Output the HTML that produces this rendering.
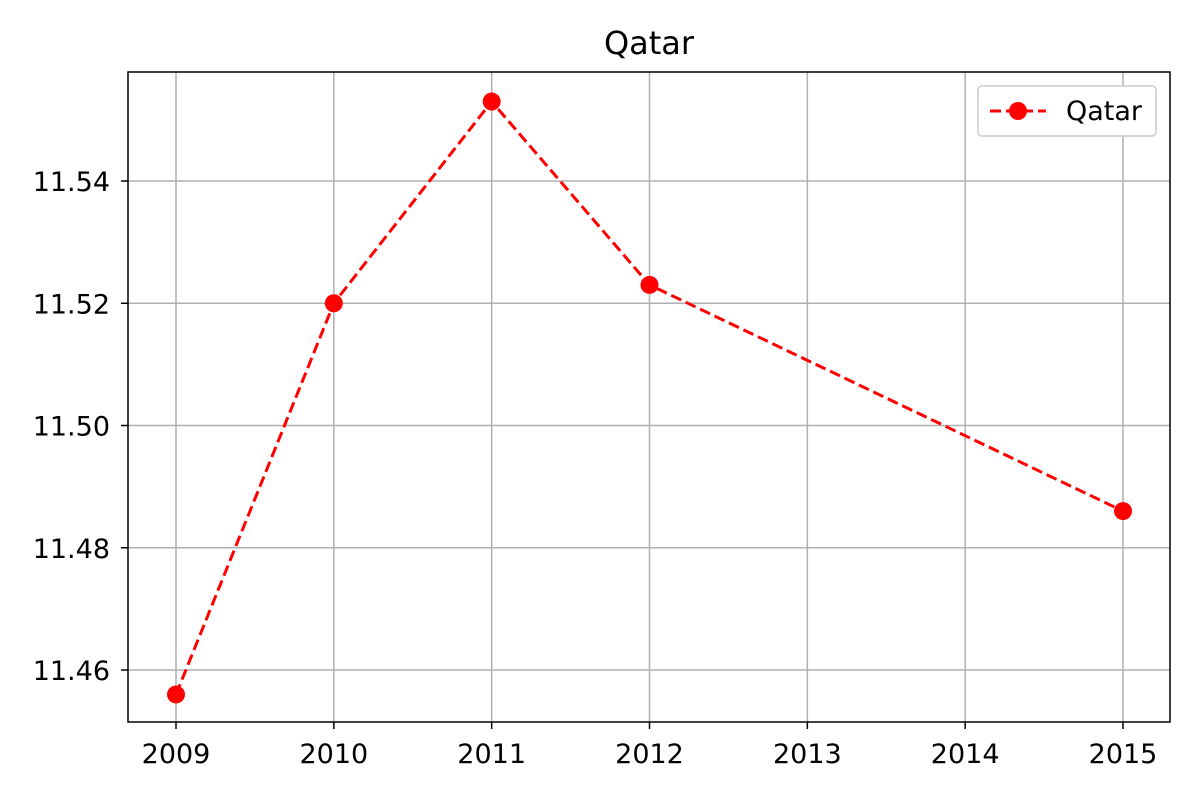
<!DOCTYPE html>
<html><head><meta charset="utf-8"><style>
body{margin:0;background:#fff;font-family:"Liberation Sans","DejaVu Sans",sans-serif;}
</style></head><body>
<svg width="1200" height="800" xmlns="http://www.w3.org/2000/svg">
<rect width="1200" height="800" fill="#fff"/>
<text x="649" y="54" font-size="32" text-anchor="middle" font-family="DejaVu Sans, sans-serif">Qatar</text>
<g id="grid"></g>
<g id="axes"></g>
<g id="series"></g>
<rect x="128" y="72" width="1042" height="650" fill="none" stroke="#000" stroke-width="1.5"/>
<g>
<rect x="978" y="86" width="178" height="50" rx="4" fill="#fff" stroke="#ccc" stroke-width="1.5"/>
<line x1="990" y1="111" x2="1046" y2="111" stroke="#f00" stroke-width="3" stroke-dasharray="11,5"/>
<circle cx="1018" cy="111" r="9" fill="#f00"/>
<text x="1066" y="120" font-size="27" font-family="DejaVu Sans, sans-serif">Qatar</text>
</g>
</svg>
<script>
const years=[2009,2010,2011,2012,2015];
const values=[11.456,11.520,11.553,11.523,11.486];
const xTicks=[2009,2010,2011,2012,2013,2014,2015];
const yTicks=[11.46,11.48,11.50,11.52,11.54];
const NS="http://www.w3.org/2000/svg";
function xs(v){return 176+(v-2009)*(1123-176)/6;}
function ys(v){return 670-(v-11.46)*(670-181)/0.08;}
function mk(t,a,p){const e=document.createElementNS(NS,t);for(const k in a)e.setAttribute(k,a[k]);p.appendChild(e);return e;}
const g=document.getElementById('grid'),ax=document.getElementById('axes'),s=document.getElementById('series');
xTicks.forEach(t=>{const x=xs(t);
const l=mk('line',{x1:x,x2:x,y1:72,y2:722,stroke:'#b0b0b0','stroke-width':1.5},g);


mk('line',{x1:x,x2:x,y1:722,y2:729,stroke:'#000','stroke-width':1.5},ax);
const tx=mk('text',{x:x,y:763,'font-size':27,'text-anchor':'middle','font-family':'DejaVu Sans, sans-serif'},ax);tx.textContent=t;


});
yTicks.forEach(t=>{const y=ys(t);
const l=mk('line',{x1:128,x2:1170,y1:y,y2:y,stroke:'#b0b0b0','stroke-width':1.5},g);


mk('line',{x1:121,x2:128,y1:y,y2:y,stroke:'#000','stroke-width':1.5},ax);
const tx=mk('text',{x:110,y:y+10,'font-size':27,'text-anchor':'end','font-family':'DejaVu Sans, sans-serif'},ax);tx.textContent=t.toFixed(2);


});
const pts=years.map((y,i)=>xs(y)+','+ys(values[i])).join(' ');
const pl=mk('polyline',{points:pts,fill:'none',stroke:'#f00','stroke-width':3,'stroke-dasharray':'11,5'},s);


years.forEach((y,i)=>{const c=mk('circle',{cx:xs(y),cy:ys(values[i]),r:9,fill:'#f00'},s);


});
</script>
</body></html>
